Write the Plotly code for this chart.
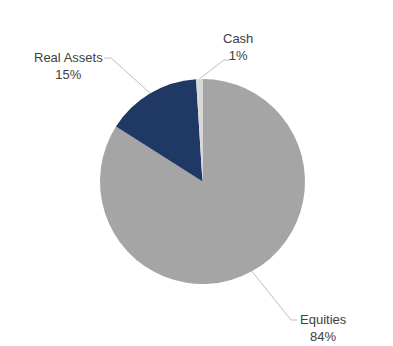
import math
import plotly.graph_objects as go

labels = ["Equities", "Real Assets", "Cash"]
values = [84, 15, 1]
colors = ["#A5A5A5", "#1F3864", "#D9D9D9"]

W, H = 393, 346
cx, cy, r = 202.5, 181.5, 102.5

def px(x):
    return x / W

def py(y):
    return 1 - y / H

# label anchor (text centre, first line) and elbow of leader line in px
label_pos = {
    "Equities": (323, 319, "left"),
    "Real Assets": (68, 57, "right"),
    "Cash": (238, 38, "left"),
}

fig = go.Figure(go.Pie(
    labels=labels, values=values, sort=False, direction="clockwise", rotation=0,
    marker=dict(colors=colors, line=dict(width=0)),
    textinfo="none", hoverinfo="label+percent",
    domain=dict(x=[px(cx - r), px(cx + r)], y=[py(cy + r), py(cy - r)]),
    showlegend=False,
))

total = sum(values)
start = 0.0
shapes = []
annotations = []
for lab, val in zip(labels, values):
    frac = val / total
    mid = (start + frac / 2) * 2 * math.pi
    start += frac
    ax = cx + r * math.sin(mid)
    ay = cy - r * math.cos(mid)
    tx, ty, side = label_pos[lab]
    # elbow: horizontal stub next to first text line
    half_w = {"Equities": 25, "Real Assets": 35, "Cash": 14}[lab]
    if side == "left":
        ex_end = tx - half_w - 1
        ex = ex_end - 6
    else:
        ex_end = tx + half_w + 1
        ex = ex_end + 7
    ey = ty + 1 if lab != "Cash" else ty + 22
    if lab == "Cash":
        ex_end = tx - 8
        ex = ex_end - 6
    path = f"M {px(ax)},{py(ay)} L {px(ex)},{py(ey)} L {px(ex_end)},{py(ey)}"
    shapes.append(dict(type="path", xref="paper", yref="paper", path=path,
                       line=dict(color="#BFBFBF", width=1)))
    annotations.append(dict(
        x=px(tx), y=py(ty - 9), xref="paper", yref="paper",
        text=f"{lab}<br>{val}%", showarrow=False, xanchor="center", yanchor="top",
        align="center", font=dict(family="Liberation Sans, Arial, sans-serif", size=13, color="#404040"),
    ))

fig.update_layout(
    width=W, height=H, margin=dict(l=0, r=0, t=0, b=0),
    paper_bgcolor="white", plot_bgcolor="white",
    shapes=shapes, annotations=annotations,
)

fig.write_html("out.html")
